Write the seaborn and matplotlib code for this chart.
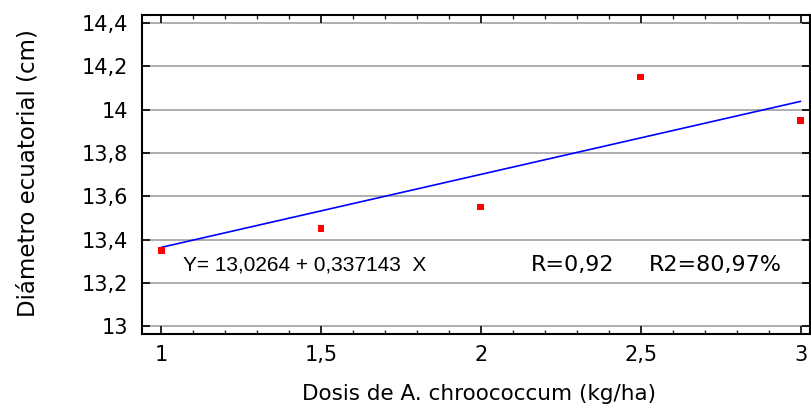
import matplotlib
matplotlib.use("Agg")
import matplotlib.pyplot as plt
import seaborn as sns
import numpy as np
import pandas as pd
from matplotlib.ticker import MultipleLocator

dosis = [1.0, 1.5, 2.0, 2.5, 3.0]
diametro = [13.35, 13.45, 13.55, 14.15, 13.95]
intercept = 13.0264
slope = 0.337143
xticks = [1, 1.5, 2, 2.5, 3]
xticklabels = ["1", "1,5", "2", "2,5", "3"]
yticks = [13.0, 13.2, 13.4, 13.6, 13.8, 14.0, 14.2, 14.4]
yticklabels = ["13", "13,2", "13,4", "13,6", "13,8", "14", "14,2", "14,4"]

sns.set_style("ticks")
plt.rcParams['font.family'] = ['DejaVu Sans']
plt.rcParams['text.color'] = 'black'
plt.rcParams['axes.labelcolor'] = 'black'

fig = plt.figure(figsize=(8.11, 4.09), dpi=100)
ax = fig.add_axes([0.175, 0.183, 0.824, 0.78])

df = pd.DataFrame({"x": dosis, "y": diametro})
fx = np.array([1.0, 3.0])
fit = pd.DataFrame({"x": fx, "y": intercept + slope * fx})

for yv in yticks:
    ax.axhline(yv, color="#a0a0a0", lw=1.2, zorder=0)

sns.lineplot(data=fit, x="x", y="y", ax=ax, color="#0000ff", lw=1.2, zorder=2)
sns.scatterplot(data=df, x="x", y="y", ax=ax, color="#ff0000", marker="s", s=24,
                edgecolor="none", zorder=3)

ax.set_xlim(0.94, 3.03)
ax.set_ylim(12.963, 14.436)
ax.set_xticks(xticks)
ax.set_xticklabels(xticklabels)
ax.set_yticks(yticks)
ax.set_yticklabels(yticklabels)
ax.xaxis.set_minor_locator(MultipleLocator(0.1))
ax.tick_params(axis="both", which="major", direction="in", length=6, width=1.2,
               top=True, right=True, labelsize=15, colors="black")
ax.tick_params(axis="x", which="major", pad=8)
ax.tick_params(axis="y", which="major", pad=10)
ax.tick_params(axis="x", which="minor", direction="in", length=3, width=1,
               top=True, bottom=True)
for s in ax.spines.values():
    s.set_linewidth(1.5)
    s.set_color("black")

ax.set_xlabel("Dosis de A. chroococcum (kg/ha)", fontsize=15.5, color="black")
ax.set_ylabel("Diámetro ecuatorial (cm)", fontsize=16.5, color="black")
ax.xaxis.set_label_coords(0.504, -0.155)
ax.yaxis.set_label_coords(-0.153, 0.505)

ax.text(1.069, 13.281, "Y= 13,0264 + 0,337143  X", fontsize=15, va="center", ha="left",
        family=["Liberation Sans", "DejaVu Sans"], color="black")
ax.text(2.155, 13.281, "R=0,92", fontsize=16, va="center", ha="left", color="black")
ax.text(2.524, 13.281, "R2=80,97%", fontsize=16, va="center", ha="left", color="black")

fig.savefig("out.png", dpi=100)
